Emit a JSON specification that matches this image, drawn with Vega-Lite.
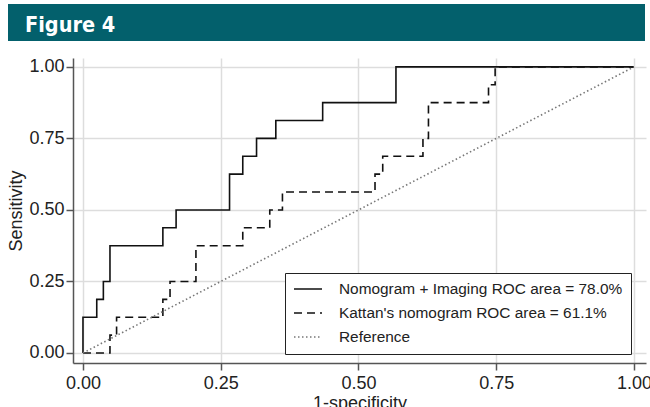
{
  "$schema": "https://vega.github.io/schema/vega-lite/v6.json",
  "background": "white",
  "padding": {"left": 7, "top": 4, "right": 0, "bottom": 0},
  "spacing": 16,
  "config": {
    "font": "Liberation Sans",
    "view": {"stroke": null},
    "axis": {
      "domainColor": "#555555",
      "domainWidth": 1.5,
      "tickColor": "#555555",
      "tickWidth": 1.5,
      "tickSize": 7,
      "gridColor": "#dddddd",
      "gridWidth": 1.5,
      "labelFontSize": 18,
      "labelColor": "#222222",
      "titleFontSize": 18,
      "titleFontWeight": "normal",
      "titleColor": "#222222"
    },
    "legend": {
      "orient": "none",
      "legendX": 277,
      "legendY": 269,
      "padding": 8,
      "strokeColor": "#222222",
      "fillColor": "white",
      "symbolType": "stroke",
      "symbolSize": 784,
      "symbolStrokeWidth": 1.5,
      "clipHeight": 16,
      "rowPadding": 7,
      "labelFontSize": 15.4,
      "labelColor": "#222222",
      "labelOffset": 16,
      "labelLimit": 400
    }
  },
  "vconcat": [
    {
      "width": 637,
      "height": 37,
      "view": {"fill": "#03606c", "stroke": null},
      "data": {"values": [{"label": "Figure 4"}]},
      "mark": {"type": "rect", "color": "#03606c"},
      "encoding": {},
      "title": {
        "text": "Figure 4",
        "anchor": "start",
        "frame": "group",
        "orient": "top",
        "offset": -32,
        "baseline": "top",
        "dx": 17,
        "color": "white",
        "fontSize": 21.5,
        "font": "Liberation Sans Narrow, DejaVu Sans Condensed, sans-serif",
        "fontWeight": "bold"
      }
    },
    {
      "width": 638,
      "height": 305,
      "data": {"values": [
        {"s": "A", "i": 0, "x": 0, "y": 0},
        {"s": "A", "i": 1, "x": 0, "y": 0.125},
        {"s": "A", "i": 2, "x": 0.025, "y": 0.125},
        {"s": "A", "i": 3, "x": 0.025, "y": 0.1875},
        {"s": "A", "i": 4, "x": 0.037, "y": 0.1875},
        {"s": "A", "i": 5, "x": 0.037, "y": 0.25},
        {"s": "A", "i": 6, "x": 0.049, "y": 0.25},
        {"s": "A", "i": 7, "x": 0.049, "y": 0.375},
        {"s": "A", "i": 8, "x": 0.145, "y": 0.375},
        {"s": "A", "i": 9, "x": 0.145, "y": 0.4375},
        {"s": "A", "i": 10, "x": 0.169, "y": 0.4375},
        {"s": "A", "i": 11, "x": 0.169, "y": 0.5},
        {"s": "A", "i": 12, "x": 0.266, "y": 0.5},
        {"s": "A", "i": 13, "x": 0.266, "y": 0.625},
        {"s": "A", "i": 14, "x": 0.29, "y": 0.625},
        {"s": "A", "i": 15, "x": 0.29, "y": 0.6875},
        {"s": "A", "i": 16, "x": 0.315, "y": 0.6875},
        {"s": "A", "i": 17, "x": 0.315, "y": 0.75},
        {"s": "A", "i": 18, "x": 0.35, "y": 0.75},
        {"s": "A", "i": 19, "x": 0.35, "y": 0.8125},
        {"s": "A", "i": 20, "x": 0.435, "y": 0.8125},
        {"s": "A", "i": 21, "x": 0.435, "y": 0.875},
        {"s": "A", "i": 22, "x": 0.568, "y": 0.875},
        {"s": "A", "i": 23, "x": 0.568, "y": 1},
        {"s": "A", "i": 24, "x": 1, "y": 1},
        {"s": "B", "i": 0, "x": 0, "y": 0},
        {"s": "B", "i": 1, "x": 0.049, "y": 0},
        {"s": "B", "i": 2, "x": 0.049, "y": 0.0625},
        {"s": "B", "i": 3, "x": 0.061, "y": 0.0625},
        {"s": "B", "i": 4, "x": 0.061, "y": 0.125},
        {"s": "B", "i": 5, "x": 0.145, "y": 0.125},
        {"s": "B", "i": 6, "x": 0.145, "y": 0.1875},
        {"s": "B", "i": 7, "x": 0.158, "y": 0.1875},
        {"s": "B", "i": 8, "x": 0.158, "y": 0.25},
        {"s": "B", "i": 9, "x": 0.205, "y": 0.25},
        {"s": "B", "i": 10, "x": 0.205, "y": 0.375},
        {"s": "B", "i": 11, "x": 0.29, "y": 0.375},
        {"s": "B", "i": 12, "x": 0.29, "y": 0.4375},
        {"s": "B", "i": 13, "x": 0.339, "y": 0.4375},
        {"s": "B", "i": 14, "x": 0.339, "y": 0.5},
        {"s": "B", "i": 15, "x": 0.362, "y": 0.5},
        {"s": "B", "i": 16, "x": 0.362, "y": 0.5625},
        {"s": "B", "i": 17, "x": 0.53, "y": 0.5625},
        {"s": "B", "i": 18, "x": 0.53, "y": 0.625},
        {"s": "B", "i": 19, "x": 0.544, "y": 0.625},
        {"s": "B", "i": 20, "x": 0.544, "y": 0.6875},
        {"s": "B", "i": 21, "x": 0.617, "y": 0.6875},
        {"s": "B", "i": 22, "x": 0.617, "y": 0.75},
        {"s": "B", "i": 23, "x": 0.627, "y": 0.75},
        {"s": "B", "i": 24, "x": 0.627, "y": 0.875},
        {"s": "B", "i": 25, "x": 0.736, "y": 0.875},
        {"s": "B", "i": 26, "x": 0.736, "y": 0.9375},
        {"s": "B", "i": 27, "x": 0.748, "y": 0.9375},
        {"s": "B", "i": 28, "x": 0.748, "y": 1},
        {"s": "B", "i": 29, "x": 1, "y": 1},
        {"s": "R", "i": 0, "x": 0, "y": 0},
        {"s": "R", "i": 1, "x": 1, "y": 1}
      ]},
      "mark": {"type": "line", "strokeWidth": 1.6},
      "encoding": {
        "x": {
          "field": "x",
          "type": "quantitative",
          "scale": {"domain": [-0.0181, 1.0218], "range": [65, 638], "nice": false, "zero": false},
          "axis": {"values": [0, 0.25, 0.5, 0.75, 1], "format": ".2f", "title": "1-specificity", "titlePadding": 2, "labelPadding": 4}
        },
        "y": {
          "field": "y",
          "type": "quantitative",
          "scale": {"domain": [-0.035, 1.031], "nice": false, "zero": false},
          "axis": {"values": [0, 0.25, 0.5, 0.75, 1], "format": ".2f", "title": "Sensitivity", "titlePadding": 3, "labelPadding": 2, "offset": -65}
        },
        "color": {
          "field": "s",
          "type": "nominal",
          "scale": {"domain": ["A", "B", "R"], "range": ["#111111", "#111111", "#777777"]},
          "legend": {"title": null, "labelExpr": "datum.value == 'A' ? 'Nomogram + Imaging ROC area = 78.0%' : datum.value == 'B' ? \"Kattan's nomogram ROC area = 61.1%\" : 'Reference'"}
        },
        "strokeDash": {
          "field": "s",
          "type": "nominal",
          "scale": {"domain": ["A", "B", "R"], "range": [[1, 0], [8, 5], [1.5, 2.5]]},
          "legend": {"title": null, "labelExpr": "datum.value == 'A' ? 'Nomogram + Imaging ROC area = 78.0%' : datum.value == 'B' ? \"Kattan's nomogram ROC area = 61.1%\" : 'Reference'"}
        },
        "order": {"field": "i", "type": "quantitative"}
      }
    }
  ]
}
